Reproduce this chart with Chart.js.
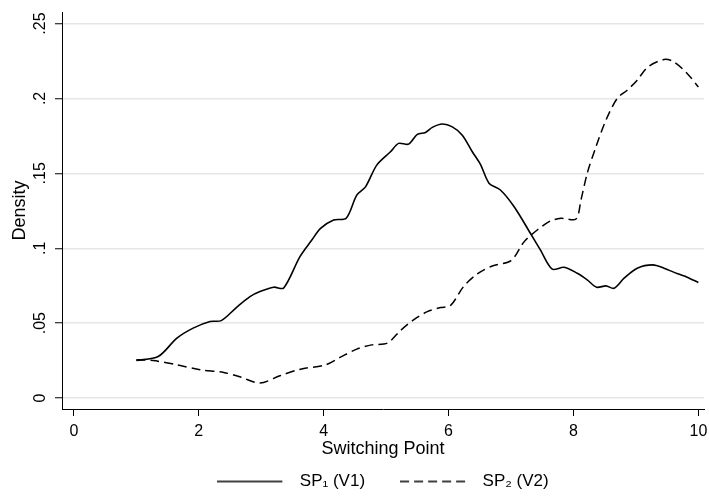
<!DOCTYPE html>
<html><head><meta charset="utf-8">
<script src="https://cdn.jsdelivr.net/npm/chart.js@4.4.1/dist/chart.umd.min.js"></script>
<style>html,body{margin:0;padding:0;background:#fff}#wrap{width:709px;height:500px}</style>
</head><body><div id="wrap"><canvas id="c" width="709" height="500"></canvas></div>
<script>
const seriesNames = ['SP\u2081 (V1)', 'SP\u2082 (V2)'];
const sp1X = [1.00,1.35,1.65,1.91,2.18,2.36,2.61,2.82,2.98,3.20,3.36,3.62,3.81,3.95,4.16,4.36,4.53,4.67,4.85,5.07,5.20,5.36,5.50,5.63,5.74,5.90,6.06,6.22,6.38,6.51,6.65,6.83,7.05,7.31,7.47,7.66,7.85,8.06,8.22,8.37,8.52,8.65,8.81,9.02,9.27,9.45,9.67,9.82,10.0];
const sp1Y = [.0251,.0277,.0400,.0467,.0511,.0517,.0607,.0677,.0711,.0740,.0735,.0944,.1055,.1133,.1189,.1200,.1355,.1410,.1555,.1644,.1700,.1695,.1760,.1773,.1807,.1829,.1810,.1755,.1644,.1560,.1433,.1389,.1277,.1100,.0989,.0860,.0873,.0833,.0789,.0740,.0749,.0733,.0800,.0867,.0889,.0867,.0829,.0807,.0771];
const sp2X = [1.00,1.27,1.65,2.02,2.40,2.67,2.98,3.30,3.63,4.03,4.27,4.53,4.77,5.02,5.23,5.44,5.66,5.87,6.03,6.24,6.46,6.70,7.00,7.21,7.42,7.63,7.80,8.04,8.12,8.22,8.36,8.52,8.70,8.86,9.02,9.19,9.45,9.61,9.82,10.0];
const sp2Y = [.0255,.0250,.0222,.0189,.0171,.0140,.0100,.0149,.0193,.0222,.0273,.0327,.0355,.0367,.0451,.0522,.0577,.0604,.0617,.0744,.0829,.0882,.0917,.1044,.1122,.1182,.1200,.1195,.1322,.1500,.1677,.1855,.2000,.2055,.2122,.2210,.2260,.2244,.2167,.2077];
const xTicks = [0,2,4,6,8,10];
const yTicks = [0,0.05,0.1,0.15,0.2,0.25];
const yTickLabels = ['0','.05','.1','.15','.2','.25'];
const xTitle = 'Switching Point';
const yTitle = 'Density';

const FONT = "'Liberation Sans', Arial, Helvetica, sans-serif";
const toPts = (xs, ys) => xs.map((x, i) => ({x, y: ys[i]}));

// legend swatch: a 65px line sample followed by blank space
function swatch(dash, width) {
  const c = document.createElement('canvas');
  c.width = 74; c.height = 4;
  const g = c.getContext('2d');
  g.strokeStyle = '#000'; g.lineWidth = width;
  g.setLineDash(dash);
  g.beginPath(); g.moveTo(0, 2); g.lineTo(65, 2); g.stroke();
  return c;
}

new Chart(document.getElementById('c'), {
  type: 'line',
  data: {
    datasets: [
      {label: seriesNames[0], data: toPts(sp1X, sp1Y), borderColor: '#000', backgroundColor: '#000', borderWidth: 1.6, pointRadius: 0, tension: 0.3, fill: false},
      {label: seriesNames[1], data: toPts(sp2X, sp2Y), borderColor: '#000', backgroundColor: '#000', borderWidth: 1.5, borderDash: [9, 5], pointRadius: 0, tension: 0.3, fill: false}
    ]
  },
  options: {
    responsive: false, animation: false, devicePixelRatio: 1,
    layout: {padding: {top: 12, right: 5, left: 0, bottom: 0}},
    plugins: {
      legend: {
        position: 'bottom', fullSize: false,
        labels: {
          usePointStyle: true, pointStyleWidth: 74, padding: 35, color: '#000', font: {family: FONT, size: 17},
          generateLabels: chart => chart.data.datasets.map((ds, i) => ({
            text: ds.label, datasetIndex: i, hidden: false, fontColor: '#000',
            pointStyle: swatch(ds.borderDash || [], ds.borderWidth), lineWidth: 0, strokeStyle: '#000', fillStyle: '#000'
          }))
        }
      },
      tooltip: {enabled: false}
    },
    scales: {
      x: {
        type: 'linear', min: -0.19, max: 10.09, bounds: 'data',
        afterBuildTicks: s => { s.ticks = xTicks.map(v => ({value: v})); },
        afterFit: s => { s.height = 29; s.paddingLeft = 0; s.paddingRight = 0; },
        grid: {drawOnChartArea: false, tickLength: 7, tickColor: '#000', tickWidth: 1},
        border: {color: '#000', width: 1},
        ticks: {color: '#000', font: {family: FONT, size: 16}, padding: 6, maxRotation: 0, callback: v => String(v)},
        title: {display: true, text: xTitle, color: '#000', font: {family: FONT, size: 18}, padding: {top: 0, bottom: -22}}
      },
      y: {
        type: 'linear', min: -0.0073, max: 0.2577, bounds: 'data',
        afterBuildTicks: s => { s.ticks = yTicks.map(v => ({value: v})); },
        afterFit: s => { s.width = 62; s.paddingTop = 0; s.paddingBottom = 0; },
        grid: {color: '#e6e6e6', lineWidth: 1.5, tickLength: 7, tickColor: '#000', tickWidth: 1},
        border: {color: '#000', width: 1},
        ticks: {color: '#000', font: {family: FONT, size: 16}, padding: 3, minRotation: 90, maxRotation: 90, crossAlign: 'center',
          callback: (v, i) => yTickLabels[i]},
        title: {display: true, text: yTitle, color: '#000', font: {family: FONT, size: 18}, padding: {top: 9, bottom: 0}}
      }
    }
  }
});
</script></body></html>
